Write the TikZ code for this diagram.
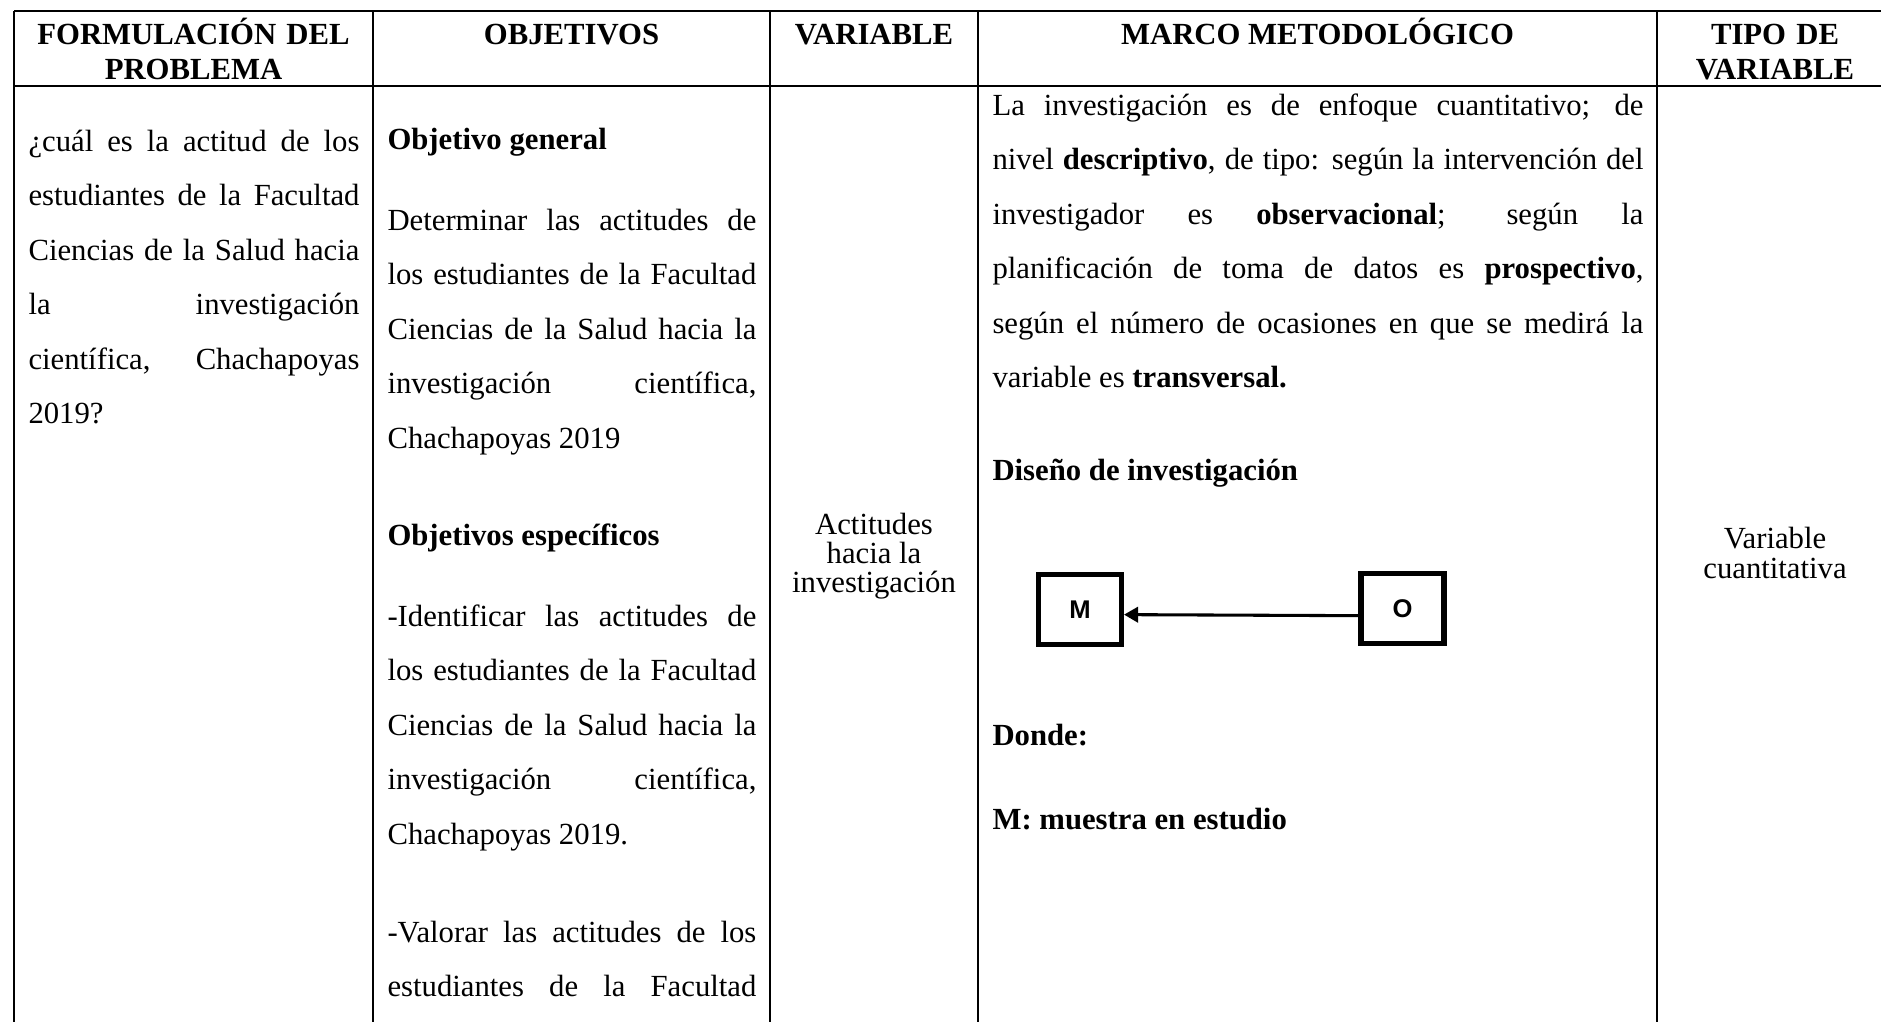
\documentclass[tikz,border=0pt]{standalone}
\usepackage{fontspec}
\setmainfont{Liberation Serif}
\newfontfamily\arialfont{Liberation Sans}
\usetikzlibrary{arrows.meta,positioning}

\tikzset{
  rejilla/.style={black,line width=0.9pt},
  cabecera/.style={font=\fontsize{12}{13.8}\selectfont\bfseries,align=center,inner sep=0pt,anchor=base},
  cuerpo/.style={font=\fontsize{12}{21.3}\selectfont,align=justify,inner sep=0pt,anchor=base west},
  celda/.style={font=\fontsize{12}{11.4}\selectfont,align=center,inner sep=0pt},
  caja/.style={draw,line width=2pt,minimum width=32.4pt,minimum height=27.3pt,inner sep=0pt,font=\arialfont\bfseries\fontsize{10}{12}\selectfont},
  flecha/.style={line width=1.2pt,-{Triangle[length=5.5pt,width=6pt]}}
}

\begin{document}
\begin{tikzpicture}[x=0.390625pt,y=-0.390625pt]
%Koordinaten in Pixeln, y nach unten
\useasboundingbox (0,0) rectangle (1881,1022);
\pgfmathsetmacro{\kopfoben}{11}
\pgfmathsetmacro{\kopfunten}{86}
%Rahmen der Tabelle
\draw[rejilla] (14,\kopfoben) -- (1881,\kopfoben);
\draw[rejilla] (14,\kopfunten) -- (1881,\kopfunten);
\foreach \xs in {14,373,770,978,1657}{
\draw[rejilla] (\xs,\kopfoben) -- (\xs,1022);
}
%Kopfzeile
\node[cabecera,text width=129.3pt] (kformulacion) at (193.5,44) {FORMULACIÓN DEL\\PROBLEMA};
\node[cabecera] (kobjetivos) at (571.5,44) {OBJETIVOS};
\node[cabecera] (kvariable) at (874,44) {VARIABLE};
\node[cabecera] (kmarco) at (1317.5,44) {MARCO METODOLÓGICO};
\node[cabecera,text width=80pt] (ktipo) at (1775,44) {TIPO DE\\VARIABLE};
%Spalte 1
\node[cuerpo,text width=129.3pt] (problema) at (28,151) {¿cuál es la actitud de los\linebreak estudiantes de la Facultad\linebreak Ciencias de la Salud hacia\linebreak la investigación\linebreak científica, Chachapoyas\linebreak 2019?};
%Spalte 2
\node[cuerpo,text width=144.1pt] (ogeneral) at (387,149) {\textbf{Objetivo general}};
\node[cuerpo,text width=144.1pt] (determinar) at (387,230) {Determinar las actitudes de\linebreak los estudiantes de la Facultad\linebreak Ciencias de la Salud hacia la\linebreak investigación científica,\linebreak Chachapoyas 2019};
\node[cuerpo,text width=144.1pt] (oespecificos) at (387,545) {\textbf{Objetivos específicos}};
\node[cuerpo,text width=144.1pt] (identificar) at (387,626) {-Identificar las actitudes de\linebreak los estudiantes de la Facultad\linebreak Ciencias de la Salud hacia la\linebreak investigación científica,\linebreak Chachapoyas 2019.};
\node[cuerpo,text width=144.1pt] (valorar) at (387,942) {-Valorar las actitudes de los\linebreak estudiantes de la Facultad\linebreak\mbox{}};
%Spalte 3
\node[celda] (actitudes) at (874,556) {Actitudes\\hacia la\\investigación};
%Spalte 4
\node[cuerpo,text width=254.3pt] (enfoque) at (992,115) {La investigación es de enfoque cuantitativo; de\linebreak nivel \textbf{descriptivo}, de tipo: según la intervención del\linebreak investigador es \textbf{observacional}; según la\linebreak planificación de toma de datos es \textbf{prospectivo},\linebreak según el número de ocasiones en que se medirá la\linebreak variable es \textbf{transversal.}};
\node[cuerpo,text width=254.3pt] (diseno) at (992,480) {\textbf{Diseño de investigación}};
\node[caja] (M) at (1080,609.5) {M};
\node[caja] (O) at (1402.5,608.5) {O};
\draw[flecha] ([yshift=-2.8pt]O.west) -- ([yshift=-2pt]M.east);
\node[cuerpo,text width=254.3pt] (donde) at (992,745) {\textbf{Donde:}};
\node[cuerpo,text width=254.3pt] (muestra) at (992,829) {\textbf{M: muestra en estudio}};
%Spalte 5
\node[celda] (cuantitativa) at (1775,553) {Variable\\cuantitativa};
\end{tikzpicture}
\end{document}
